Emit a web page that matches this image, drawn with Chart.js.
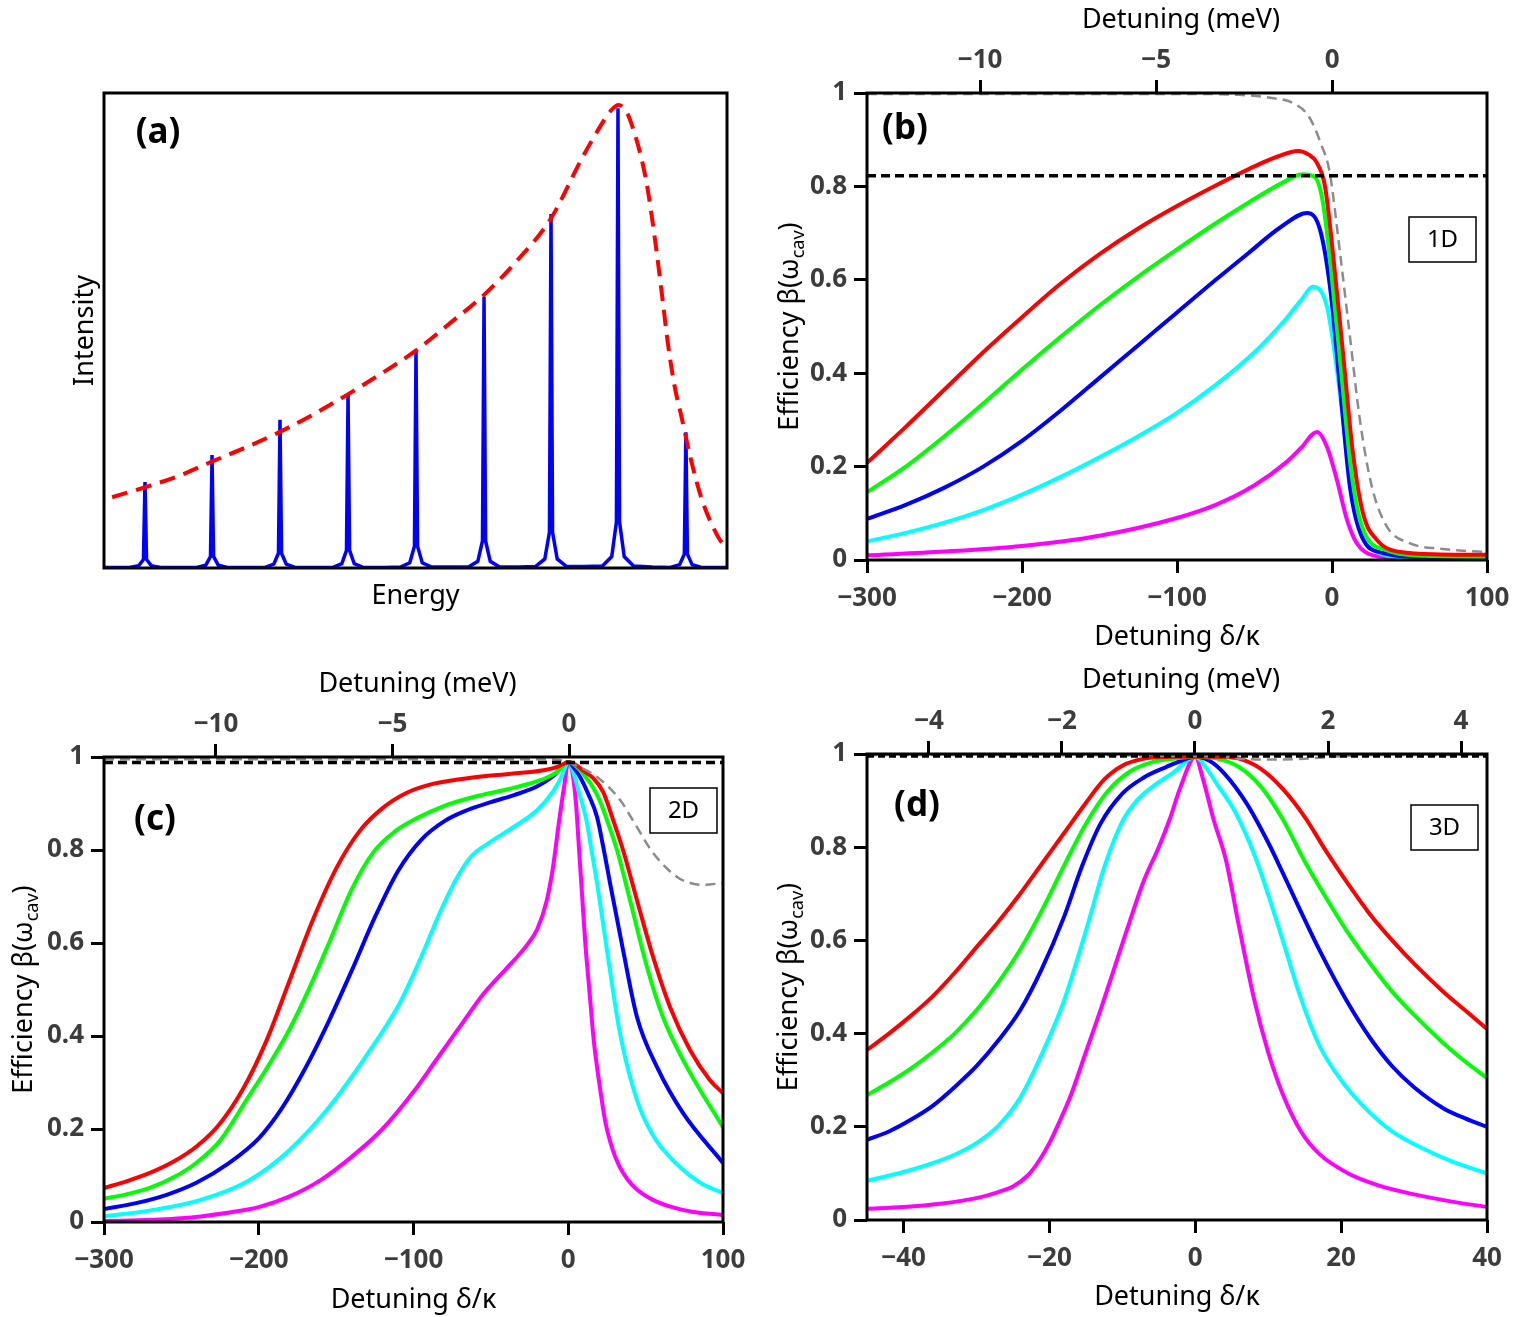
<!DOCTYPE html>
<html>
<head>
<meta charset="utf-8">
<title>Efficiency vs detuning</title>
<script src="https://cdn.jsdelivr.net/npm/chart.js@4.4.1/dist/chart.umd.min.js"></script>
<style>
  body { margin: 0; background: #fff; }
  #page { position: relative; width: 1521px; height: 1317px; background: #fff; }
  canvas { position: absolute; }
</style>
</head>
<body>
<div id="page">
  <canvas id="chartA" width="760" height="660" style="left:0;top:0"></canvas>
  <canvas id="chartB" width="760" height="660" style="left:760px;top:0"></canvas>
  <canvas id="chartC" width="760" height="657" style="left:0;top:660px"></canvas>
  <canvas id="chartD" width="760" height="657" style="left:760px;top:660px"></canvas>
</div>
<script>
// ---------- panel (a): cavity spectrum, arbitrary units (energy 0..100, intensity 0..1)
const aSpectrum = [
  [0, 0.001],
  [4.08, 0.001], [5.58, 0.005], [6.33, 0.018], [6.58, 0.181], [6.83, 0.018], [7.58, 0.005], [9.08, 0.001],
  [12.0, 0.001],
  [14.84, 0.001], [16.34, 0.006], [17.09, 0.024], [17.34, 0.238], [17.59, 0.024], [18.34, 0.006], [19.84, 0.001],
  [23.0, 0.001],
  [25.75, 0.001], [27.25, 0.008], [28.0, 0.031], [28.25, 0.312], [28.5, 0.031], [29.25, 0.008], [30.75, 0.001],
  [34.0, 0.001],
  [36.67, 0.001], [38.17, 0.009], [38.92, 0.037], [39.17, 0.366], [39.42, 0.037], [40.17, 0.009], [41.67, 0.001],
  [45.0, 0.001],
  [47.58, 0.002], [49.08, 0.011], [49.83, 0.046], [50.08, 0.459], [50.33, 0.046], [51.08, 0.011], [52.58, 0.002],
  [56.0, 0.002],
  [58.5, 0.002], [60.0, 0.014], [60.75, 0.057], [61.0, 0.571], [61.25, 0.057], [62.0, 0.014], [63.5, 0.002],
  [66.5, 0.002],
  [69.25, 0.003], [70.75, 0.019], [71.5, 0.075], [71.75, 0.745], [72.0, 0.075], [72.75, 0.019], [74.25, 0.003],
  [77.0, 0.003],
  [80.0, 0.004], [81.5, 0.024], [82.25, 0.097], [82.5, 0.968], [82.75, 0.097], [83.5, 0.024], [85.0, 0.004],
  [88.0, 0.002],
  [90.9, 0.001], [92.4, 0.007], [93.15, 0.029], [93.4, 0.286], [93.65, 0.029], [94.4, 0.007], [95.9, 0.001],
  [100, 0.001]
];
const aEnvelope = [
  [1.3, 0.149], [6.6, 0.17], [12.2, 0.195], [17.3, 0.224], [22.8, 0.254], [28.3, 0.287], [33.7, 0.324],
  [39.2, 0.366], [44.6, 0.41], [50.1, 0.458], [55.5, 0.515], [61.0, 0.575], [66.5, 0.65], [71.7, 0.735],
  [76.7, 0.862], [79.9, 0.935], [81.5, 0.965], [82.6, 0.975], [83.6, 0.965], [84.4, 0.945], [87.0, 0.817],
  [88.6, 0.676], [89.6, 0.571], [90.5, 0.474], [91.5, 0.389], [92.8, 0.312], [94.1, 0.234], [96.0, 0.143],
  [98.6, 0.065], [100, 0.04]
];

// ---------- shared ticks
const yTicks = [0, 0.2, 0.4, 0.6, 0.8, 1];

// ---------- panel (b) 1D
const bTicksX = [-300, -200, -100, 0, 100];
const bTicksMeV = [-10, -5, 0];
const bRangeMeV = [-13.21, 4.40];
const bRef = [[-300, 0.823], [100, 0.823]];
const bGray = [[-300, 0.998], [-100, 0.998], [-60, 0.996], [-40, 0.99], [-25, 0.978], [-15, 0.95], [-7, 0.89],
  [-1.5, 0.83], [5.2, 0.657], [11.6, 0.478], [18, 0.3], [25.8, 0.156], [35.5, 0.071], [50, 0.036], [70, 0.024], [100, 0.017]];
const bRed = [[-300, 0.208], [-275, 0.285], [-250, 0.365], [-225, 0.445], [-200, 0.52], [-175, 0.592], [-150, 0.655],
  [-125, 0.71], [-100, 0.758], [-75, 0.802], [-50, 0.843], [-35, 0.864], [-22, 0.876], [-15, 0.868], [-10, 0.852],
  [-4.5, 0.8], [0.6, 0.657], [7.1, 0.443], [13.5, 0.229], [20, 0.1], [29, 0.043], [44, 0.017], [70, 0.012], [100, 0.011]];
const bGreen = [[-300, 0.145], [-275, 0.2], [-250, 0.265], [-225, 0.335], [-200, 0.408], [-175, 0.478], [-150, 0.545],
  [-125, 0.607], [-100, 0.665], [-75, 0.721], [-54, 0.765], [-33, 0.806], [-19, 0.826], [-11, 0.82], [-5.8, 0.764],
  [-0.6, 0.621], [5.8, 0.407], [12.3, 0.193], [19.4, 0.071], [35, 0.021], [60, 0.009], [100, 0.006]];
const bBlue = [[-300, 0.088], [-275, 0.118], [-250, 0.155], [-225, 0.2], [-200, 0.255], [-175, 0.32], [-150, 0.39],
  [-125, 0.46], [-100, 0.53], [-75, 0.6], [-54, 0.657], [-33, 0.713], [-16, 0.743], [-7.7, 0.707], [-1.3, 0.585],
  [5.2, 0.37], [11.6, 0.156], [19.4, 0.049], [33, 0.015], [60, 0.006], [100, 0.004]];
const bCyan = [[-300, 0.04], [-275, 0.058], [-250, 0.08], [-225, 0.107], [-200, 0.14], [-175, 0.178], [-150, 0.22],
  [-125, 0.265], [-100, 0.315], [-75, 0.375], [-50, 0.445], [-30, 0.515], [-20, 0.556], [-12.3, 0.585], [-3.2, 0.542],
  [3.2, 0.407], [9.7, 0.229], [16.1, 0.086], [26.5, 0.021], [50, 0.005], [100, 0.002]];
const bMagenta = [[-300, 0.01], [-250, 0.018], [-200, 0.03], [-150, 0.052], [-100, 0.09], [-75, 0.118], [-50, 0.16],
  [-30, 0.208], [-20, 0.24], [-9.7, 0.274], [-3.2, 0.242], [3.2, 0.171], [9.7, 0.086], [16, 0.036], [26.5, 0.01],
  [50, 0.002], [100, 0.001]];

// ---------- panel (c) 2D
const cTicksX = [-300, -200, -100, 0, 100];
const cTicksMeV = [-10, -5, 0];
const cRangeMeV = [-13.17, 4.36];
const cRef = [[-300, 0.988], [100, 0.988]];
const cGray = [[-300, 0.995], [-20, 0.995], [-5, 0.993], [1, 0.987], [18.6, 0.957], [33.4, 0.908], [44.4, 0.849],
  [54.8, 0.794], [70.3, 0.742], [80, 0.728], [87, 0.725], [100, 0.729]];
const cRed = [[-300, 0.073], [-285, 0.088], [-270, 0.106], [-255, 0.13], [-240, 0.163], [-225, 0.212], [-210, 0.287],
  [-195, 0.39], [-180, 0.52], [-165, 0.65], [-150, 0.76], [-135, 0.84], [-120, 0.89], [-105, 0.922], [-90, 0.94],
  [-70, 0.952], [-50, 0.96], [-30, 0.966], [-15, 0.972], [-6, 0.98], [0, 0.989], [4, 0.985], [10, 0.97], [16, 0.955],
  [22.5, 0.925], [29, 0.865], [35.4, 0.8], [44.4, 0.692], [54.8, 0.57], [65.8, 0.462], [78.7, 0.37], [91.6, 0.305], [100, 0.277]];
const cGreen = [[-300, 0.05], [-285, 0.06], [-270, 0.074], [-255, 0.096], [-240, 0.128], [-225, 0.175], [-208, 0.262],
  [-194, 0.335], [-180, 0.415], [-167, 0.505], [-154, 0.605], [-140, 0.715], [-126, 0.795], [-112, 0.84], [-98, 0.868],
  [-80, 0.895], [-60, 0.915], [-40, 0.93], [-20, 0.948], [-8, 0.966], [0, 0.989], [5, 0.98], [10, 0.962], [15, 0.94],
  [20.5, 0.905], [26, 0.855], [31.5, 0.8], [39.9, 0.692], [50.9, 0.548], [61.2, 0.441], [76.7, 0.333], [100, 0.204]];
const cBlue = [[-300, 0.028], [-280, 0.04], [-260, 0.058], [-240, 0.085], [-220, 0.125], [-200, 0.18], [-185, 0.245],
  [-170, 0.33], [-155, 0.43], [-140, 0.54], [-125, 0.655], [-110, 0.755], [-95, 0.822], [-80, 0.862], [-65, 0.886],
  [-50, 0.903], [-35, 0.918], [-20, 0.937], [-10, 0.958], [0, 0.989], [4, 0.975], [8, 0.955], [13, 0.92], [18.6, 0.871],
  [23, 0.8], [27, 0.729], [35.4, 0.585], [44.4, 0.441], [57.4, 0.333], [74.2, 0.234], [100, 0.127]];
const cCyan = [[-300, 0.012], [-270, 0.025], [-238, 0.047], [-206, 0.09], [-180, 0.155], [-155, 0.245], [-130, 0.36],
  [-109, 0.47], [-95, 0.57], [-83, 0.665], [-72, 0.74], [-63, 0.785], [-50, 0.818], [-35, 0.85], [-20, 0.886],
  [-10, 0.925], [-4, 0.96], [0, 0.989], [3, 0.97], [6, 0.935], [9, 0.9], [12, 0.86], [15, 0.8], [18.6, 0.729],
  [25, 0.585], [33.4, 0.406], [44.4, 0.262], [55, 0.185], [70, 0.125], [85, 0.085], [100, 0.062]];
const cMagenta = [[-300, 0.002], [-250, 0.008], [-220, 0.02], [-200, 0.032], [-180, 0.055], [-160, 0.09], [-140, 0.14],
  [-120, 0.2], [-100, 0.28], [-85, 0.35], [-70, 0.42], [-55, 0.49], [-40, 0.545], [-28, 0.59], [-20, 0.63],
  [-14, 0.69], [-10, 0.76], [-6, 0.86], [-2.5, 0.94], [0, 0.989], [2.5, 0.97], [5, 0.9], [7, 0.8], [9, 0.7],
  [11, 0.6], [13.6, 0.5], [16.5, 0.39], [20, 0.3], [24, 0.215], [28.5, 0.158], [33, 0.12], [38, 0.093], [44, 0.071],
  [55, 0.047], [66, 0.033], [80, 0.022], [100, 0.015]];

// ---------- panel (d) 3D
const dTicksX = [-40, -20, 0, 20, 40];
const dTicksMeV = [-4, -2, 0, 2, 4];
const dRangeX = [-45, 40];
const dRangeMeV = [-4.93, 4.39];
const dRef = [[-45, 0.995], [40, 0.995]];
const dGray = [[-45, 0.998], [0, 0.996], [3, 0.995], [6, 0.99], [10, 0.988], [15, 0.99], [20, 0.995], [25, 0.998], [40, 0.998]];
const dRed = [[-45, 0.365], [-42, 0.4], [-39, 0.438], [-36, 0.48], [-33, 0.53], [-30, 0.585], [-27, 0.64], [-24, 0.7],
  [-21, 0.765], [-18, 0.83], [-15, 0.895], [-12.5, 0.945], [-10, 0.975], [-7, 0.99], [-3, 0.994], [0, 0.994],
  [3, 0.994], [6, 0.99], [9, 0.968], [12, 0.925], [15, 0.865], [18, 0.79], [21, 0.72], [24, 0.655], [27, 0.6],
  [30, 0.55], [34, 0.49], [37, 0.45], [40, 0.41]];
const dGreen = [[-45, 0.268], [-42, 0.295], [-39, 0.325], [-36, 0.36], [-33, 0.4], [-30, 0.45], [-27, 0.51], [-24, 0.58],
  [-21, 0.665], [-18, 0.76], [-15, 0.85], [-12, 0.92], [-9, 0.962], [-6, 0.982], [-3, 0.99], [0, 0.994], [3, 0.99],
  [6, 0.972], [9, 0.93], [12, 0.86], [15, 0.77], [18, 0.69], [21, 0.615], [24, 0.55], [27, 0.49], [30, 0.44],
  [34, 0.38], [37, 0.34], [40, 0.305]];
const dBlue = [[-45, 0.172], [-42, 0.19], [-39, 0.215], [-36, 0.245], [-33, 0.285], [-30, 0.33], [-27, 0.385], [-24, 0.45],
  [-21, 0.54], [-18, 0.65], [-15.5, 0.76], [-13, 0.85], [-10, 0.915], [-7, 0.95], [-4, 0.972], [-2, 0.985], [0, 0.994],
  [2, 0.985], [4, 0.958], [7, 0.895], [10, 0.81], [12, 0.745], [14, 0.678], [17, 0.58], [20.7, 0.472], [24, 0.39],
  [27, 0.33], [30, 0.285], [34, 0.24], [37, 0.218], [40, 0.2]];
const dCyan = [[-45, 0.084], [-40, 0.103], [-36, 0.122], [-33, 0.14], [-30, 0.165], [-27, 0.202], [-24, 0.262],
  [-21.2, 0.35], [-18, 0.47], [-15, 0.62], [-12.3, 0.765], [-10, 0.855], [-8, 0.9], [-6, 0.928], [-3, 0.96],
  [0, 0.994], [1.5, 0.97], [3, 0.935], [5.5, 0.875], [8.2, 0.78], [11.3, 0.635], [14.5, 0.475], [17, 0.375], [20, 0.3],
  [23, 0.245], [27, 0.19], [31, 0.155], [35, 0.127], [40, 0.1]];
const dMagenta = [[-45, 0.024], [-40, 0.028], [-35, 0.035], [-30, 0.047], [-27, 0.06], [-25, 0.072], [-23, 0.095],
  [-21.5, 0.125], [-20, 0.165], [-18.5, 0.215], [-17, 0.27], [-15, 0.36], [-13, 0.45], [-11, 0.545], [-9, 0.64],
  [-7, 0.73], [-5, 0.8], [-3.5, 0.86], [-2, 0.93], [0, 0.994], [1, 0.95], [2.5, 0.86], [4.2, 0.773], [6, 0.63],
  [8.1, 0.472], [10, 0.36], [12, 0.27], [14.5, 0.19], [17, 0.142], [21, 0.1], [25, 0.075], [30, 0.055], [35, 0.04], [40, 0.028]];

// ---------- styling helpers
const FONT = '"Noto Sans", "Open Sans", sans-serif';
const tickFont = { family: FONT, size: 26, weight: 'bold' };
const fmt = v => (v < 0 ? '\u2212' + Math.abs(v) : String(v));

function curve(data, color) {
  return { data, borderColor: color, borderWidth: 4, pointRadius: 0, fill: false, cubicInterpolationMode: 'monotone' };
}
function dashed(data, color, width, dash) {
  return { data, borderColor: color, borderWidth: width, borderDash: dash, pointRadius: 0, fill: false,
           cubicInterpolationMode: 'monotone' };
}
function axis(position, range, ticks, size, pad) {
  const horizontal = position === 'top' || position === 'bottom';
  return {
    type: 'linear', position, min: range[0], max: range[1],
    afterBuildTicks: s => { s.ticks = ticks.map(v => ({ value: v })); },
    afterFit: s => { if (horizontal) s.height = size; else s.width = size; },
    ticks: { font: tickFont, color: '#3c3c3c', padding: pad, maxRotation: 0, autoSkip: false, callback: fmt },
    grid: { drawOnChartArea: false, drawTicks: true, tickLength: 13, tickWidth: 3, tickColor: '#000' },
    border: { display: false }
  };
}

function drawYTitle(ctx, x, y) {
  const main = 'Efficiency \u03B2(\u03C9', sub = 'cav', close = ')';
  ctx.save();
  ctx.translate(x, y);
  ctx.rotate(-Math.PI / 2);
  ctx.textAlign = 'left';
  ctx.textBaseline = 'alphabetic';
  ctx.font = `27px ${FONT}`;
  const w1 = ctx.measureText(main).width, w3 = ctx.measureText(close).width;
  ctx.font = `18px ${FONT}`;
  const w2 = ctx.measureText(sub).width;
  const s = -(w1 + w2 + w3) / 2;
  ctx.font = `27px ${FONT}`;
  ctx.fillText(main, s, 10);
  ctx.font = `18px ${FONT}`;
  ctx.fillText(sub, s + w1, 16);
  ctx.font = `27px ${FONT}`;
  ctx.fillText(close, s + w1 + w2, 10);
  ctx.restore();
}

// frame, panel letter, dimension box and axis titles
function decor(c) {
  return {
    id: 'decor',
    afterDatasetsDraw(chart) {
      const { ctx, chartArea: a } = chart;
      const cx = (a.left + a.right) / 2, cy = (a.top + a.bottom) / 2;
      ctx.save();
      ctx.strokeStyle = '#000';
      ctx.lineWidth = 3;
      ctx.strokeRect(a.left, a.top, a.right - a.left, a.bottom - a.top);
      ctx.fillStyle = '#000';
      ctx.textAlign = 'center';
      ctx.textBaseline = 'middle';
      ctx.font = `bold 35px ${FONT}`;
      ctx.fillText(c.letter, a.left + c.letterX, a.top + c.letterY);
      if (c.dim) {
        ctx.lineWidth = 1.5;
        ctx.strokeRect(a.right - c.boxR, a.top + c.boxT, 67, 45);
        ctx.font = `24px ${FONT}`;
        ctx.fillText(c.dim, a.right - c.boxR + 33.5, a.top + c.boxT + 23);
      }
      ctx.font = `27px ${FONT}`;
      if (c.bottom) ctx.fillText(c.bottom, cx, a.bottom + c.bottomAt);
      if (c.top) ctx.fillText(c.top, cx + 4, a.top - c.topAt);
      if (c.yTitle === 'eff') drawYTitle(ctx, a.left - c.yAt, cy);
      if (c.yTitle === 'int') {
        ctx.save();
        ctx.translate(a.left - c.yAt, cy);
        ctx.rotate(-Math.PI / 2);
        ctx.fillText('Intensity', 0, 0);
        ctx.restore();
      }
      ctx.restore();
    }
  };
}

const common = {
  responsive: false,
  animation: false,
  events: [],
  plugins: { legend: { display: false }, tooltip: { enabled: false } }
};

// ---------- (a)
new Chart(document.getElementById('chartA'), {
  type: 'line',
  data: { datasets: [
    dashed(aEnvelope, '#ff0000', 4, [16, 9]),
    { data: aSpectrum, borderColor: '#0000ff', borderWidth: 3.5, pointRadius: 0, fill: false, tension: 0 }
  ] },
  options: Object.assign({}, common, {
    layout: { padding: { left: 104, right: 33, top: 93, bottom: 92 } },
    scales: {
      x: { type: 'linear', min: 0, max: 100, display: false },
      y: { type: 'linear', min: 0, max: 1, display: false }
    }
  }),
  plugins: [decor({ letter: '(a)', letterX: 54, letterY: 40, yTitle: 'int', yAt: 19, bottom: 'Energy', bottomAt: 28 })]
});

// ---------- (b)
new Chart(document.getElementById('chartB'), {
  type: 'line',
  data: { datasets: [
    dashed(bRef, '#000', 3.5, [9, 5]),
    dashed(bGray, '#8c8c8c', 2.5, [10, 6]),
    curve(bRed, '#ff0000'), curve(bGreen, '#00ff00'), curve(bBlue, '#0000ff'),
    curve(bCyan, '#00ffff'), curve(bMagenta, '#ff00ff')
  ] },
  options: Object.assign({}, common, {
    layout: { padding: { left: 0, right: 33, top: 0, bottom: 0 } },
    scales: {
      x: axis('bottom', [-300, 100], bTicksX, 100, 10),
      x2: axis('top', bRangeMeV, bTicksMeV, 93, 4),
      y: axis('left', [0, 1], yTicks, 107, 7)
    }
  }),
  plugins: [decor({ letter: '(b)', letterX: 38, letterY: 36, dim: '1D', boxR: 78, boxT: 124,
    yTitle: 'eff', yAt: 79, bottom: 'Detuning \u03B4/\u03BA', bottomAt: 77, top: 'Detuning (meV)', topAt: 73 })]
});

// ---------- (c)
new Chart(document.getElementById('chartC'), {
  type: 'line',
  data: { datasets: [
    dashed(cRef, '#000', 3.5, [9, 5]),
    dashed(cGray, '#8c8c8c', 2.5, [10, 6]),
    curve(cRed, '#ff0000'), curve(cGreen, '#00ff00'), curve(cBlue, '#0000ff'),
    curve(cCyan, '#00ffff'), curve(cMagenta, '#ff00ff')
  ] },
  options: Object.assign({}, common, {
    layout: { padding: { left: 0, right: 37, top: 0, bottom: 0 } },
    scales: {
      x: axis('bottom', [-300, 100], cTicksX, 95, 10),
      x2: axis('top', cRangeMeV, cTicksMeV, 97, 4),
      y: axis('left', [0, 1], yTicks, 104, 7)
    }
  }),
  plugins: [decor({ letter: '(c)', letterX: 51, letterY: 63, dim: '2D', boxR: 73, boxT: 31,
    yTitle: 'eff', yAt: 82, bottom: 'Detuning \u03B4/\u03BA', bottomAt: 78, top: 'Detuning (meV)', topAt: 73 })]
});

// ---------- (d)
new Chart(document.getElementById('chartD'), {
  type: 'line',
  data: { datasets: [
    dashed(dRef, '#000', 3, [7, 4]),
    dashed(dGray, '#8c8c8c', 2.5, [10, 6]),
    curve(dRed, '#ff0000'), curve(dGreen, '#00ff00'), curve(dBlue, '#0000ff'),
    curve(dCyan, '#00ffff'), curve(dMagenta, '#ff00ff')
  ] },
  options: Object.assign({}, common, {
    layout: { padding: { left: 0, right: 33, top: 0, bottom: 0 } },
    scales: {
      x: axis('bottom', dRangeX, dTicksX, 97, 10),
      x2: axis('top', dRangeMeV, dTicksMeV, 94, 4),
      y: axis('left', [0, 1], yTicks, 107, 7)
    }
  }),
  plugins: [decor({ letter: '(d)', letterX: 50, letterY: 52, dim: '3D', boxR: 76, boxT: 51,
    yTitle: 'eff', yAt: 80, bottom: 'Detuning \u03B4/\u03BA', bottomAt: 77, top: 'Detuning (meV)', topAt: 74 })]
});
</script>
</body>
</html>
